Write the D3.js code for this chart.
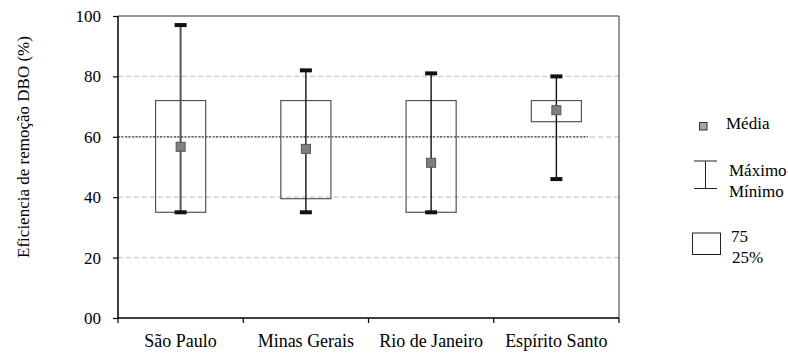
<!DOCTYPE html>
<html>
<head>
<meta charset="utf-8">
<script src="https://cdn.jsdelivr.net/npm/d3@7"></script>
<style>
  html, body { margin: 0; padding: 0; background: #fff; }
  svg { display: block; }
  svg text { font-family: "Liberation Serif", "Times New Roman", serif; fill: #000; }
</style>
</head>
<body>
<svg id="chart" width="788" height="353"></svg>
<script>
// Eficiência de remoção de DBO por estado
const states = ["São Paulo", "Minas Gerais", "Rio de Janeiro", "Espírito Santo"];
const maxima = [97, 82, 81, 80];
const minima = [35, 35, 35, 46];
const q75 = [72, 72, 72, 72];
const q25 = [35, 39.5, 35, 65];
const means = [56.7, 56, 51.4, 68.8];
const yTicks = [0, 20, 40, 60, 80, 100];
const yTickLabels = ["00", "20", "40", "60", "80", "100"];
const refValue = 60;

const svg = d3.select("#chart");
const m = { left: 118, right: 619, top: 16, bottom: 318 };

const x = d3.scaleBand().domain(states).range([m.left, m.right]).padding(0);
const y = d3.scaleLinear().domain([0, 100]).range([m.bottom, m.top]);

// grid lines
svg.append("g").selectAll("line")
  .data(yTicks.filter(v => v > 0 && v < 100))
  .join("line")
  .attr("x1", m.left).attr("x2", m.right)
  .attr("y1", d => y(d)).attr("y2", d => y(d))
  .attr("stroke", "#c8c8c8").attr("stroke-width", 1.2)
  .attr("stroke-dasharray", "5,3");

// reference line at 60%
svg.append("line")
  .attr("x1", m.left).attr("x2", 588)
  .attr("y1", y(refValue)).attr("y2", y(refValue))
  .attr("stroke", "#444").attr("stroke-width", 1.2)
  .attr("stroke-dasharray", "2,1.5");

// frame: top and right
svg.append("line")
  .attr("x1", m.left).attr("x2", m.right)
  .attr("y1", y(100)).attr("y2", y(100))
  .attr("stroke", "#333").attr("stroke-width", 1);
svg.append("line")
  .attr("x1", m.right).attr("x2", m.right)
  .attr("y1", y(100)).attr("y2", y(0))
  .attr("stroke", "#333").attr("stroke-width", 1);

// y axis
const yAxis = d3.axisLeft(y)
  .tickValues(yTicks)
  .tickFormat((d, i) => yTickLabels[i])
  .tickSize(5).tickPadding(12);
const gy = svg.append("g").attr("transform", `translate(${m.left},0)`).call(yAxis);
gy.attr("font-family", null);
gy.select(".domain").attr("stroke", "#000").attr("stroke-width", 1.5).attr("d", `M0,${m.top}V${m.bottom}`);
gy.selectAll(".tick line").attr("stroke", "#000").attr("stroke-width", 1.2);
gy.selectAll(".tick text").attr("font-size", 17);

// x axis: ticks at category boundaries, labels at centers
const bounds = states.map(s => x(s)).concat([x(states[states.length - 1]) + x.bandwidth()]);
const gx = svg.append("g");
gx.append("line")
  .attr("x1", m.left).attr("x2", m.right)
  .attr("y1", m.bottom).attr("y2", m.bottom)
  .attr("stroke", "#000").attr("stroke-width", 1.5);
gx.selectAll("line.tk").data(bounds).join("line").attr("class", "tk")
  .attr("x1", d => d).attr("x2", d => d)
  .attr("y1", m.bottom).attr("y2", m.bottom + 5)
  .attr("stroke", "#000").attr("stroke-width", 1.2);
gx.selectAll("text").data(states).join("text")
  .attr("x", d => x(d) + x.bandwidth() / 2)
  .attr("y", 346.5)
  .attr("text-anchor", "middle")
  .attr("font-size", 18)
  .text(d => d);

// y axis title
svg.append("text")
  .attr("transform", `translate(29,${(m.top + m.bottom) / 2 - 20}) rotate(-90)`)
  .attr("text-anchor", "middle")
  .attr("font-size", 17)
  .text("Eficiencia de remoção DBO (%)");

// boxes, whiskers, means
const boxW = x.bandwidth() * 0.4;
const capW = 12;
const g = svg.append("g");
states.forEach((s, i) => {
  const cx = x(s) + x.bandwidth() / 2;
  g.append("rect")
    .attr("x", cx - boxW / 2).attr("width", boxW)
    .attr("y", y(q75[i])).attr("height", y(q25[i]) - y(q75[i]))
    .attr("fill", "none").attr("stroke", "#555").attr("stroke-width", 1.2);
  g.append("line")
    .attr("x1", cx).attr("x2", cx)
    .attr("y1", y(maxima[i])).attr("y2", y(minima[i]))
    .attr("stroke", i === 0 ? "#555" : "#111")
    .attr("stroke-width", i === 0 ? 2 : 1.4);
  [maxima[i], minima[i]].forEach(v => {
    g.append("rect")
      .attr("x", cx - capW / 2).attr("width", capW)
      .attr("y", y(v) - 2).attr("height", 4)
      .attr("fill", "#111");
  });
  g.append("rect")
    .attr("x", cx - 4.5).attr("y", y(means[i]) - 4.5)
    .attr("width", 9).attr("height", 9)
    .attr("fill", "#808080").attr("stroke", "#555").attr("stroke-width", 1);
});

// legend
const lg = svg.append("g").attr("font-size", 17);
lg.append("rect").attr("x", 699.5).attr("y", 122.5).attr("width", 7.5).attr("height", 7.5)
  .attr("fill", "#a6a6a6").attr("stroke", "#333").attr("stroke-width", 1);
lg.append("text").attr("x", 726).attr("y", 128.5).text("Média");
lg.append("line").attr("x1", 694).attr("x2", 717).attr("y1", 161).attr("y2", 161).attr("stroke", "#222");
lg.append("line").attr("x1", 694).attr("x2", 717).attr("y1", 188.5).attr("y2", 188.5).attr("stroke", "#222");
lg.append("line").attr("x1", 705.5).attr("x2", 705.5).attr("y1", 161).attr("y2", 188.5).attr("stroke", "#222");
lg.append("text").attr("x", 729).attr("y", 175.5).text("Máximo");
lg.append("text").attr("x", 729).attr("y", 196.5).text("Mínimo");
lg.append("rect").attr("x", 692.5).attr("y", 233).attr("width", 28).attr("height", 21.5)
  .attr("fill", "none").attr("stroke", "#222").attr("stroke-width", 1);
lg.append("text").attr("x", 731).attr("y", 241.5).text("75");
lg.append("text").attr("x", 732).attr("y", 263).text("25%");
</script>
</body>
</html>
